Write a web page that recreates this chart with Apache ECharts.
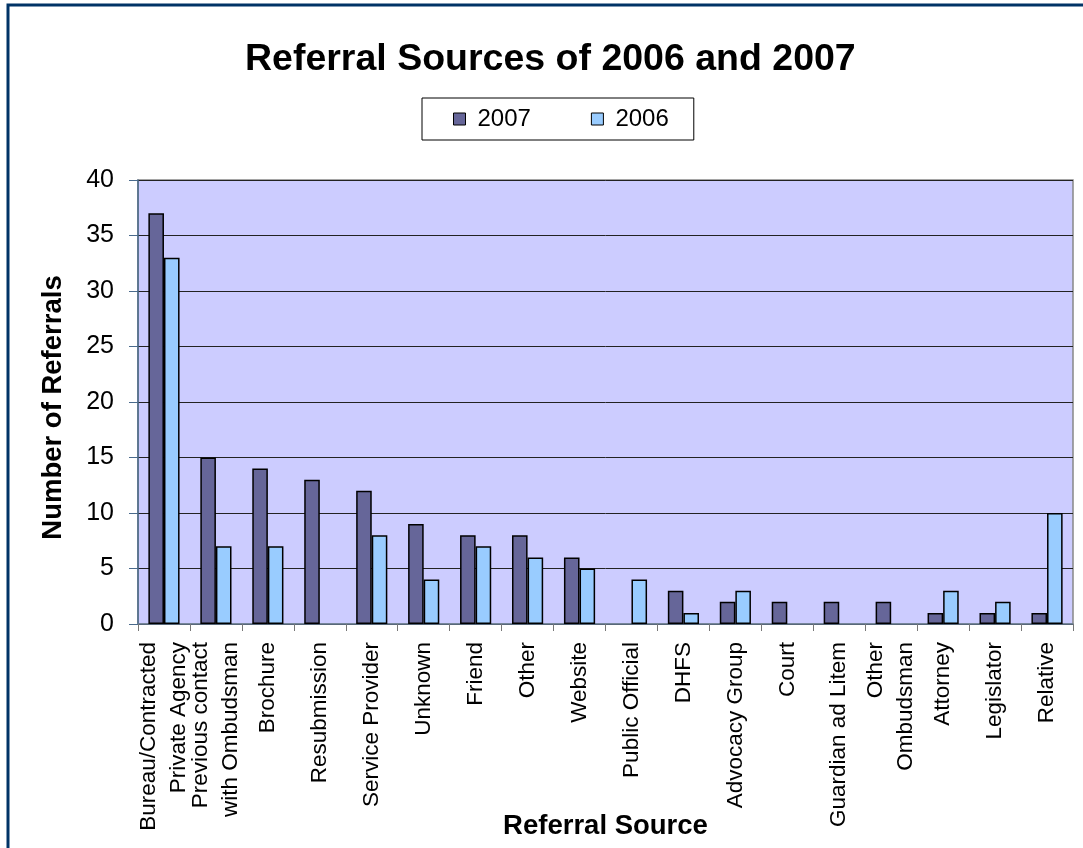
<!DOCTYPE html>
<html>
<head>
<meta charset="utf-8">
<script src="https://cdn.jsdelivr.net/npm/echarts@6/dist/echarts.min.js"></script>
<style>
  html, body { margin: 0; padding: 0; background: #ffffff; }
  #chart { width: 1083px; height: 848px; }
</style>
</head>
<body>
<div id="chart"></div>
<script>
// Referral sources, counts per year
const categories = [
  'Bureau/Contracted\nPrivate Agency',
  'Previous contact\nwith Ombudsman',
  'Brochure',
  'Resubmission',
  'Service Provider',
  'Unknown',
  'Friend',
  'Other',
  'Website',
  'Public Official',
  'DHFS',
  'Advocacy Group',
  'Court',
  'Guardian ad Litem',
  'Other\nOmbudsman',
  'Attorney',
  'Legislator',
  'Relative'
];
const values2007 = [37, 15, 14, 13, 12, 9, 8, 8, 6, 0, 3, 2, 2, 2, 2, 1, 1, 1];
const values2006 = [33, 7, 7, 0, 8, 4, 7, 6, 5, 4, 1, 3, 0, 0, 0, 3, 2, 10];
const seriesNames = ['2007', '2006'];

const FONT = '"Liberation Sans", Arial, sans-serif';

// zero counts get no outline so no stray line sits on the axis
function barItems(values) {
  return values.map(v => v === 0 ? { value: v, itemStyle: { borderWidth: 0 } } : v);
}

const chart = echarts.init(document.getElementById('chart'), null, { renderer: 'canvas' });

chart.setOption({
  backgroundColor: '#ffffff',
  animation: false,
  textStyle: { fontFamily: FONT },
  graphic: [{
    type: 'rect',
    shape: { x: 8, y: 5, width: 1100, height: 900 },
    style: { fill: 'none', stroke: '#003366', lineWidth: 3 },
    silent: true,
    z: -1
  }],
  title: {
    text: 'Referral Sources of 2006 and 2007',
    left: 240,
    top: 36,
    textStyle: { fontFamily: FONT, fontSize: 37.5, fontWeight: 'bold', color: '#000' }
  },
  legend: {
    data: seriesNames,
    left: 422,
    top: 98,
    orient: 'horizontal',
    icon: 'rect',
    itemWidth: 12,
    itemHeight: 12,
    itemGap: 60,
    padding: [9, 25, 9, 31],
    borderColor: '#000',
    borderWidth: 1,
    itemStyle: { borderColor: '#000', borderWidth: 1 },
    textStyle: { fontFamily: FONT, fontSize: 24, color: '#000', padding: [0, 0, 0, 7] }
  },
  grid: {
    left: 138,
    right: 10,
    top: 180,
    bottom: 224,
    show: true,
    backgroundColor: '#CCCCFF',
    borderColor: '#888888',
    borderWidth: 1.5,
    containLabel: false,
    outerBoundsMode: 'none'
  },
  xAxis: {
    type: 'category',
    data: categories,
    name: 'Referral Source',
    nameLocation: 'middle',
    nameGap: 188,
    nameMoveOverlap: false,
    nameTextStyle: { fontFamily: FONT, fontSize: 27.5, fontWeight: 'bold', color: '#000' },
    axisLine: { show: true, lineStyle: { color: '#6a7f96', width: 1.5 } },
    axisTick: { show: true, length: 7, lineStyle: { color: '#777' } },
    axisLabel: {
      rotate: 90,
      interval: 0,
      margin: 18,
      fontFamily: FONT,
      fontSize: 22.5,
      lineHeight: 30,
      color: '#000'
    },
    splitLine: { show: false }
  },
  yAxis: {
    type: 'value',
    min: 0,
    max: 40,
    interval: 5,
    name: 'Number of Referrals',
    nameLocation: 'middle',
    nameGap: 71,
    nameMoveOverlap: false,
    nameTextStyle: {
      fontFamily: FONT, fontSize: 27.5, fontWeight: 'bold', color: '#000',
      padding: [0, 11, 0, 0]
    },
    axisLine: { show: true, lineStyle: { color: '#4a6a8c', width: 1.5 } },
    axisTick: { show: true, inside: false, length: 9, lineStyle: { color: '#4a6a8c' } },
    axisLabel: { fontFamily: FONT, fontSize: 25, color: '#000', margin: 24 },
    splitLine: { show: true, lineStyle: { color: '#222', width: 1 } }
  },
  series: [
    {
      name: seriesNames[0],
      type: 'bar',
      data: barItems(values2007),
      barGap: '0%',
      barCategoryGap: '40%',
      itemStyle: { color: '#666699', borderColor: '#000', borderWidth: 1.5 }
    },
    {
      name: seriesNames[1],
      type: 'bar',
      data: barItems(values2006),
      barGap: '0%',
      barCategoryGap: '40%',
      itemStyle: { color: '#99CCFF', borderColor: '#000', borderWidth: 1.5 }
    }
  ]
});
</script>
</body>
</html>
